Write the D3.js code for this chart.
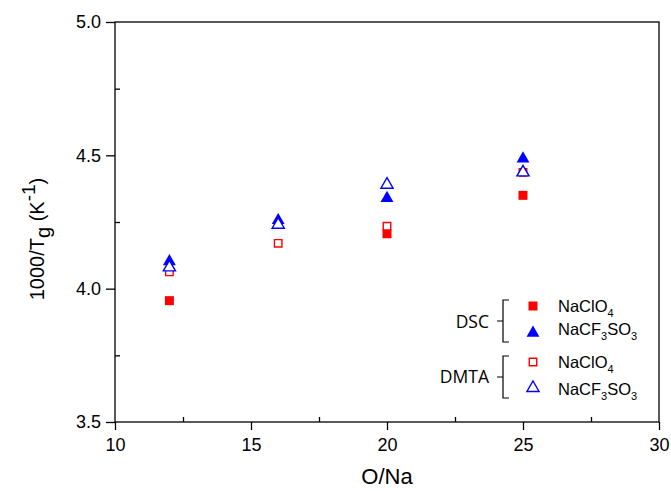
<!DOCTYPE html>
<html><head><meta charset="utf-8">
<script src="https://cdn.jsdelivr.net/npm/d3@7"></script>
<style>body{margin:0;background:#fff}</style>
</head><body>
<svg id="c" width="671" height="491"></svg>
<script>
const oNa = [12, 16, 20, 25];
const dscClO4 = [3.955, null, 4.206, 4.350];
const dscCF3SO3 = [4.102, 4.256, 4.339, 4.487];
const dmtaClO4 = [4.063, 4.170, 4.234, 4.436];
const dmtaCF3SO3 = [4.080, 4.240, 4.390, 4.436];
const xTicks = [10, 15, 20, 25, 30];
const yTicks = [3.5, 4.0, 4.5, 5.0];

const svg = d3.select("#c");
const L = 115, R = 659, T = 22, B = 422;
const x = d3.scaleLinear().domain([10, 30]).range([L, R]);
const y = d3.scaleLinear().domain([3.5, 5.0]).range([B, T]);
const font = "Arial, 'Liberation Sans', sans-serif";

// frame
svg.append("rect").attr("x", L).attr("y", T).attr("width", R - L).attr("height", B - T)
  .attr("fill", "none").attr("stroke", "#000").attr("stroke-width", 1.3);

// bottom axis: major outward, minor inward
const xAx = svg.append("g").attr("transform", `translate(0,${B})`)
  .call(d3.axisBottom(x).tickValues(xTicks).tickSize(8).tickPadding(8).tickFormat(d3.format("d")));
xAx.select(".domain").remove();
xAx.selectAll("text").attr("font-family", font).attr("font-size", 18).attr("fill", "#000");
xAx.selectAll("line").attr("stroke-width", 1.3);
svg.append("g").attr("transform", `translate(0,${B})`)
  .call(d3.axisBottom(x).tickValues([12.5, 17.5, 22.5, 27.5]).tickSize(-5).tickFormat(""))
  .call(g => g.select(".domain").remove()).selectAll("line").attr("stroke-width", 1.3);

const yAx = svg.append("g").attr("transform", `translate(${L},0)`)
  .call(d3.axisLeft(y).tickValues(yTicks).tickSize(9).tickPadding(5).tickFormat(d3.format(".1f")));
yAx.select(".domain").remove();
yAx.selectAll("text").attr("font-family", font).attr("font-size", 18).attr("fill", "#000");
yAx.selectAll("line").attr("stroke-width", 1.3);
svg.append("g").attr("transform", `translate(${L},0)`)
  .call(d3.axisLeft(y).tickValues([3.75, 4.25, 4.75]).tickSize(-5).tickFormat(""))
  .call(g => g.select(".domain").remove()).selectAll("line").attr("stroke-width", 1.3);

// axis titles
svg.append("text").attr("x", (L + R) / 2).attr("y", 484).attr("text-anchor", "middle")
  .attr("font-family", font).attr("font-size", 22).text("O/Na");
const yt = svg.append("text").attr("transform", `translate(44,239) rotate(-90)`)
  .attr("text-anchor", "middle").attr("font-family", font).attr("font-size", 20);
yt.append("tspan").text("1000/T");
yt.append("tspan").attr("font-size", 20).attr("dy", 6).text("g");
yt.append("tspan").attr("dy", -6).text(" (K");
yt.append("tspan").attr("font-size", 19).attr("dy", -9).text("-1");
yt.append("tspan").attr("dy", 9).text(")");

// markers
const sq = d3.symbol().type(d3.symbolSquare).size(81);
const tri = d3.symbol().type(d3.symbolTriangle).size(72);
const triH = d3.symbol().type(d3.symbolTriangle).size(64);
const sqH = d3.symbol().type(d3.symbolSquare).size(56);
function series(vals, gen, fill, stroke, sw) {
  svg.append("g").selectAll("path")
    .data(oNa.map((o, i) => [o, vals[i]]).filter(d => d[1] != null))
    .join("path")
    .attr("transform", d => `translate(${x(d[0])},${y(d[1])})`)
    .attr("d", gen).attr("fill", fill).attr("stroke", stroke).attr("stroke-width", sw);
}
series(dscClO4, sq, "#ff0000", "none", 0);
series(dscCF3SO3, tri, "#0000ff", "none", 0);
series(dmtaClO4, sqH, "#fff", "#ff0000", 1.4);
series(dmtaCF3SO3, triH, "#fff", "#0000ff", 1.4);

// legend
const lfont = "'Open Sans', 'Noto Sans', sans-serif";
function bracket(label, y0, y1, base) {
  const bx = 503, ym = (y0 + y1) / 2;
  svg.append("path").attr("d", `M${bx + 6},${y0} H${bx} V${y1} H${bx + 6} M${bx},${ym} H${bx - 6}`)
    .attr("fill", "none").attr("stroke", "#000").attr("stroke-width", 1.2);
  svg.append("text").attr("x", 489).attr("y", base).attr("text-anchor", "end")
    .attr("font-family", lfont).attr("font-size", 17.5).text(label);
}
bracket("DSC", 300, 342, 328);
bracket("DMTA", 356, 398, 383);
function legItem(yc, base, gen, fill, stroke, sw, t0, sub, tail, sub2) {
  svg.append("path").attr("transform", `translate(533,${yc})`).attr("d", gen)
    .attr("fill", fill).attr("stroke", stroke).attr("stroke-width", sw);
  const t = svg.append("text").attr("x", 558).attr("y", base).attr("font-family", font).attr("font-size", 16.5);
  t.append("tspan").text(t0);
  t.append("tspan").attr("font-size", 11).attr("dy", 5).text(sub);
  if (tail) {
    t.append("tspan").attr("dy", -5).text(tail);
    t.append("tspan").attr("font-size", 11).attr("dy", 5).text(sub2);
  }
}
legItem(306, 311.7, sq, "#ff0000", "none", 0, "NaClO", "4");
legItem(333, 335, tri, "#0000ff", "none", 0, "NaCF", "3", "SO", "3");
legItem(362, 368, sqH, "#fff", "#ff0000", 1.4, "NaClO", "4");
legItem(388, 395, triH, "#fff", "#0000ff", 1.4, "NaCF", "3", "SO", "3");
</script>
</body></html>
